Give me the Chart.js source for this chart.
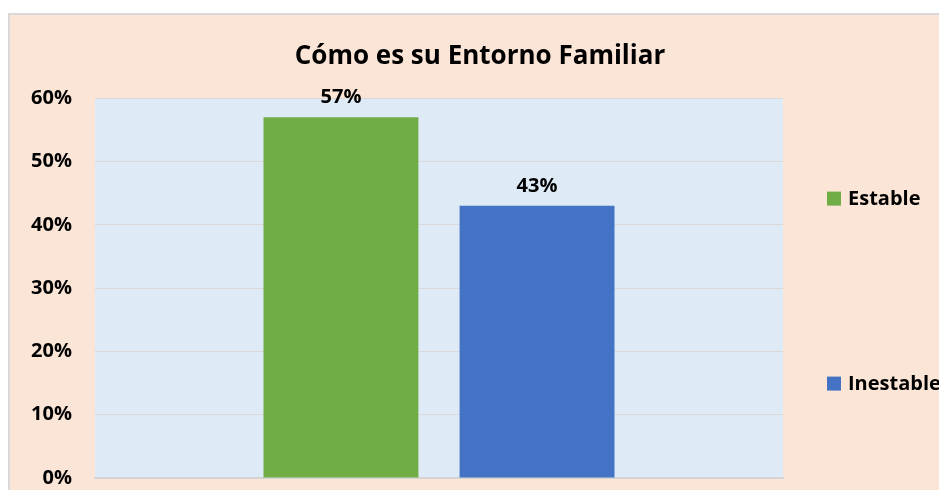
<!DOCTYPE html>
<html>
<head>
<meta charset="utf-8">
<script src="https://cdn.jsdelivr.net/npm/chart.js@4.4.1/dist/chart.umd.min.js"></script>
<style>
  body { margin: 0; background: #ffffff; overflow: hidden; }
  #box {
    position: absolute; left: 8px; top: 13px;
    width: 929px; height: 477px;
    background: #FBE5D6;
    border: 2px solid #d9d9d9;
  }
</style>
</head>
<body>
<div id="box"><canvas id="chart" width="929" height="475"></canvas></div>
<script>
// Data
const categories = ['Cómo es su Entorno Familiar'];
const seriesNames = ['Estable', 'Inestable'];
const estableValues = [57];
const inestableValues = [43];
const tickLabels = ['0%', '10%', '20%', '30%', '40%', '50%', '60%'];

const fontFamily = '"Open Sans", Lato, sans-serif';

// Light blue plot area
const plotBackground = {
    id: 'plotBackground',
    beforeDraw(chart) {
        const { ctx, chartArea } = chart;
        ctx.save();
        ctx.fillStyle = '#DEEAF6';
        ctx.fillRect(chartArea.left, chartArea.top, chartArea.right - chartArea.left, chartArea.bottom - chartArea.top);
        ctx.restore();
    }
};

// Value labels above bars
const valueLabels = {
    id: 'valueLabels',
    afterDatasetsDraw(chart) {
        const ctx = chart.ctx;
        ctx.save();
        ctx.font = 'bold 20px ' + fontFamily;
        ctx.fillStyle = '#000000';
        ctx.textAlign = 'center';
        ctx.textBaseline = 'middle';
        chart.data.datasets.forEach((ds, i) => {
            chart.getDatasetMeta(i).data.forEach((bar, j) => {
                ctx.fillText(ds.data[j] + '%', bar.x, bar.y - 20);
            });
        });
        ctx.restore();
    }
};

// Legend on the right, items spread vertically like the original
const sideLegend = {
    id: 'sideLegend',
    afterDraw(chart) {
        const { ctx, chartArea } = chart;
        const mid = (chartArea.top + chartArea.bottom) / 2 + 3;
        const step = 185;
        const n = chart.data.datasets.length;
        ctx.save();
        ctx.font = 'bold 20px ' + fontFamily;
        ctx.textBaseline = 'middle';
        chart.data.datasets.forEach((ds, i) => {
            const y = mid + (i - (n - 1) / 2) * step;
            const x = chartArea.right + 44;
            ctx.fillStyle = ds.backgroundColor;
            ctx.fillRect(x, y - 7, 14, 14);
            ctx.fillStyle = '#000000';
            ctx.fillText(ds.label, x + 21, y + 1);
        });
        ctx.restore();
    }
};

new Chart(document.getElementById('chart'), {
    type: 'bar',
    data: {
        labels: categories,
        datasets: [
            { label: seriesNames[0], data: estableValues, backgroundColor: '#70AD47' },
            { label: seriesNames[1], data: inestableValues, backgroundColor: '#4472C4' }
        ]
    },
    options: {
        responsive: false,
        animation: false,
        devicePixelRatio: 1,
        categoryPercentage: 0.57,
        barPercentage: 0.79,
        layout: { padding: { left: 11, right: 0, top: 0, bottom: 0 } },
        plugins: {
            legend: { display: false },
            tooltip: { enabled: false },
            title: {
                display: true,
                text: 'Cómo es su Entorno Familiar',
                color: '#000000',
                font: { family: fontFamily, size: 26, weight: 'bold' },
                padding: { top: 26, bottom: 26 }
            }
        },
        scales: {
            x: {
                ticks: { display: false },
                grid: { display: false },
                border: { color: '#d4d4d4', width: 2 },
                afterFit(scale) { scale.height = 1; }
            },
            y: {
                min: 0,
                max: 60,
                afterFit(scale) { scale.width = 74; },
                ticks: {
                    stepSize: 10,
                    padding: 0,
                    color: '#000000',
                    font: { family: fontFamily, size: 20, weight: 'bold' },
                    callback: (v) => tickLabels[v / 10]
                },
                // invisible tick marks give the gap between labels and plot
                grid: { color: '#d9d9d9', lineWidth: 1, tickLength: 23, tickColor: 'rgba(0,0,0,0)' },
                border: { display: false }
            },
            // empty axis on the right that keeps room for the legend
            yRight: {
                position: 'right',
                ticks: { display: false },
                grid: { display: false },
                border: { display: false },
                afterFit(scale) { scale.width = 156; }
            }
        }
    },
    plugins: [plotBackground, valueLabels, sideLegend]
});
</script>
</body>
</html>
